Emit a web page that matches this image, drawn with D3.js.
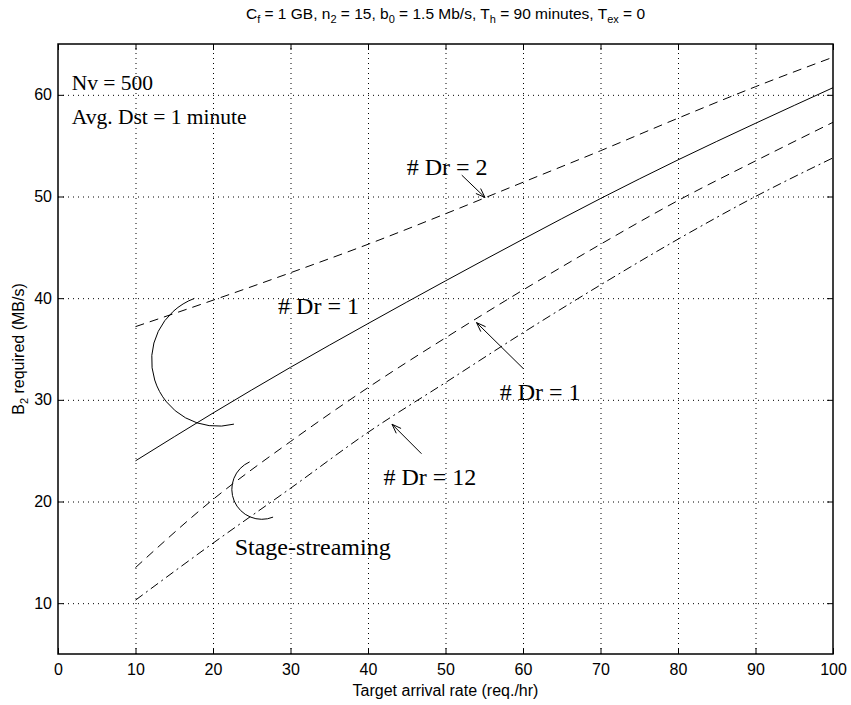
<!DOCTYPE html>
<html>
<head>
<meta charset="utf-8">
<script src="https://cdn.jsdelivr.net/npm/d3@7"></script>
<style>
  html, body { margin: 0; padding: 0; background: #fff; }
  svg { display: block; }
  .tick text { font-family: "Liberation Sans", Arial, sans-serif; }
</style>
</head>
<body>
<svg id="chart" width="851" height="705"></svg>
<script>
// ---------------- data ----------------
const arrivalRate = [10, 20, 30, 40, 50, 60, 70, 80, 90, 100];
const dr1Solid    = [24.0, 28.7, 33.2, 37.5, 41.7, 45.8, 49.8, 53.6, 57.2, 60.7];
const dr2Dashed   = [37.2, 39.8, 42.5, 45.3, 48.3, 51.4, 54.5, 57.7, 60.8, 63.7];
const dr1Stage    = [13.5, 20.2, 25.9, 31.2, 36.1, 40.8, 45.3, 49.6, 53.5, 57.3];
const dr12Stage   = [10.3, 15.9, 21.3, 26.8, 31.7, 36.6, 41.3, 45.8, 50.0, 53.8];
const xTicks = [0, 10, 20, 30, 40, 50, 60, 70, 80, 90, 100];
const yTicks = [10, 20, 30, 40, 50, 60];
const xDomain = [0, 100];
const yDomain = [5, 65];

(function () {
// ---------------- layout ----------------
const svg = d3.select("#chart");
const pL = 58, pR = 833, pT = 44, pB = 654;
const x = d3.scaleLinear().domain(xDomain).range([pL, pR]);
const y = d3.scaleLinear().domain(yDomain).range([pB, pT]);

// grid
const gridStyle = g => g.selectAll("line").attr("stroke", "#000").attr("stroke-width", 1).attr("stroke-dasharray", "1,4");
svg.append("g").attr("transform", `translate(0,${pB})`)
  .call(d3.axisBottom(x).tickValues(xTicks.filter(t => t > xDomain[0] && t < xDomain[1])).tickSize(-(pB - pT)).tickFormat(""))
  .call(g => g.select(".domain").remove())
  .call(gridStyle);
svg.append("g").attr("transform", `translate(${pL},0)`)
  .call(d3.axisLeft(y).tickValues(yTicks).tickSize(-(pR - pL)).tickFormat(""))
  .call(g => g.select(".domain").remove())
  .call(gridStyle);

// axes (ticks inward on all four sides)
const tickLen = 6;
const axFont = g => g.selectAll("text").attr("font-size", 16).attr("fill", "#000");
svg.append("g").attr("transform", `translate(0,${pB})`)
  .call(d3.axisBottom(x).tickValues(xTicks).tickSize(-tickLen).tickPadding(10))
  .call(axFont).call(g => g.select(".domain").remove());
svg.append("g").attr("transform", `translate(0,${pT})`)
  .call(d3.axisTop(x).tickValues(xTicks).tickSize(-tickLen).tickFormat(""))
  .call(g => g.select(".domain").remove());
svg.append("g").attr("transform", `translate(${pL},0)`)
  .call(d3.axisLeft(y).tickValues(yTicks).tickSize(-tickLen).tickPadding(6))
  .call(axFont).call(g => g.select(".domain").remove());
svg.append("g").attr("transform", `translate(${pR},0)`)
  .call(d3.axisRight(y).tickValues(yTicks).tickSize(-tickLen).tickFormat(""))
  .call(g => g.select(".domain").remove());

svg.append("rect").attr("x", pL).attr("y", pT).attr("width", pR - pL).attr("height", pB - pT)
  .attr("fill", "none").attr("stroke", "#000").attr("stroke-width", 1.5);

// ---------------- series ----------------
const line = d3.line().x((d, i) => x(arrivalRate[i])).y(d => y(d)).curve(d3.curveMonotoneX);
const series = [
  { values: dr1Solid,  dash: null },
  { values: dr2Dashed, dash: "9,6" },
  { values: dr1Stage,  dash: "9,6" },
  { values: dr12Stage, dash: "9,4,2,4" }
];
svg.append("g").selectAll("path").data(series).join("path")
  .attr("d", d => line(d.values))
  .attr("fill", "none").attr("stroke", "#000").attr("stroke-width", 1)
  .attr("stroke-dasharray", d => d.dash);

// ---------------- annotations ----------------
const serif = "'Liberation Serif', 'Times New Roman', serif";
const sans = "'Liberation Sans', Arial, sans-serif";
function label(tx, ty, txt, size) {
  svg.append("text").attr("x", x(tx)).attr("y", y(ty)).attr("font-family", serif)
    .attr("font-size", size).attr("fill", "#000").text(txt);
}
function arrow(x0, y0, x1, y1) {
  const X0 = x(x0), Y0 = y(y0), X1 = x(x1), Y1 = y(y1);
  const a = Math.atan2(Y1 - Y0, X1 - X0), L = 10, h = 0.35;
  const p = d3.path();
  p.moveTo(X0, Y0); p.lineTo(X1, Y1);
  p.moveTo(X1 - L * Math.cos(a - h), Y1 - L * Math.sin(a - h)); p.lineTo(X1, Y1);
  p.lineTo(X1 - L * Math.cos(a + h), Y1 - L * Math.sin(a + h));
  svg.append("path").attr("d", p.toString()).attr("fill", "none").attr("stroke", "#000").attr("stroke-width", 1);
}
function arcMark(cx, cy, r, a0, a1) {
  const p = d3.path();
  p.arc(x(cx), y(cy), r, a0 * Math.PI / 180, a1 * Math.PI / 180, false);
  svg.append("path").attr("d", p.toString()).attr("fill", "none").attr("stroke", "#000").attr("stroke-width", 1);
}

label(1.77, 60.5, "Nv = 500", 21.5);
label(1.77, 57.1, "Avg. Dst = 1 minute", 21.5);
label(45.0, 52.1, "# Dr = 2", 24);
arrow(52.1, 52.1, 55.1, 49.9);
label(28.4, 38.4, "# Dr = 1", 24);
label(57.0, 30.0, "# Dr = 1", 24);
arrow(60.0, 33.1, 54.0, 37.6);
label(42.0, 21.6, "# Dr = 12", 24);
arrow(46.9, 24.7, 43.1, 27.6);
label(22.8, 14.7, "Stage-streaming", 24);
arcMark(20.6, 33.9, 66, 75.7, 249.3);
arcMark(26.3, 21.2, 30, 68, 246);

// ---------------- titles ----------------
const title = svg.append("text").attr("x", (pL + pR) / 2).attr("y", 19).attr("text-anchor", "middle")
  .attr("font-family", sans).attr("font-size", 15.5).attr("fill", "#000");
const parts = [["C",""],["f","sub"],[" = 1 GB, n",""],["2","sub"],[" = 15, b",""],["0","sub"],
  [" = 1.5 Mb/s, T",""],["h","sub"],[" = 90 minutes, T",""],["ex","sub"],[" = 0",""]];
parts.forEach(([t, k], i) => {
  const ts = title.append("tspan").text(t);
  if (k === "sub") ts.attr("dy", 4).attr("font-size", 11);
  else if (i > 0) ts.attr("dy", -4);
});

svg.append("text").attr("x", (pL + pR) / 2).attr("y", 696).attr("text-anchor", "middle")
  .attr("font-family", sans).attr("font-size", 16).attr("fill", "#000").text("Target arrival rate (req./hr)");

const yl = svg.append("text").attr("transform", `translate(24,${(pT + pB) / 2}) rotate(-90)`)
  .attr("text-anchor", "middle").attr("font-family", sans).attr("font-size", 16).attr("fill", "#000");
yl.append("tspan").text("B");
yl.append("tspan").text("2").attr("dy", 4).attr("font-size", 11);
yl.append("tspan").text(" required (MB/s)").attr("dy", -4);
})();
</script>
</body>
</html>
